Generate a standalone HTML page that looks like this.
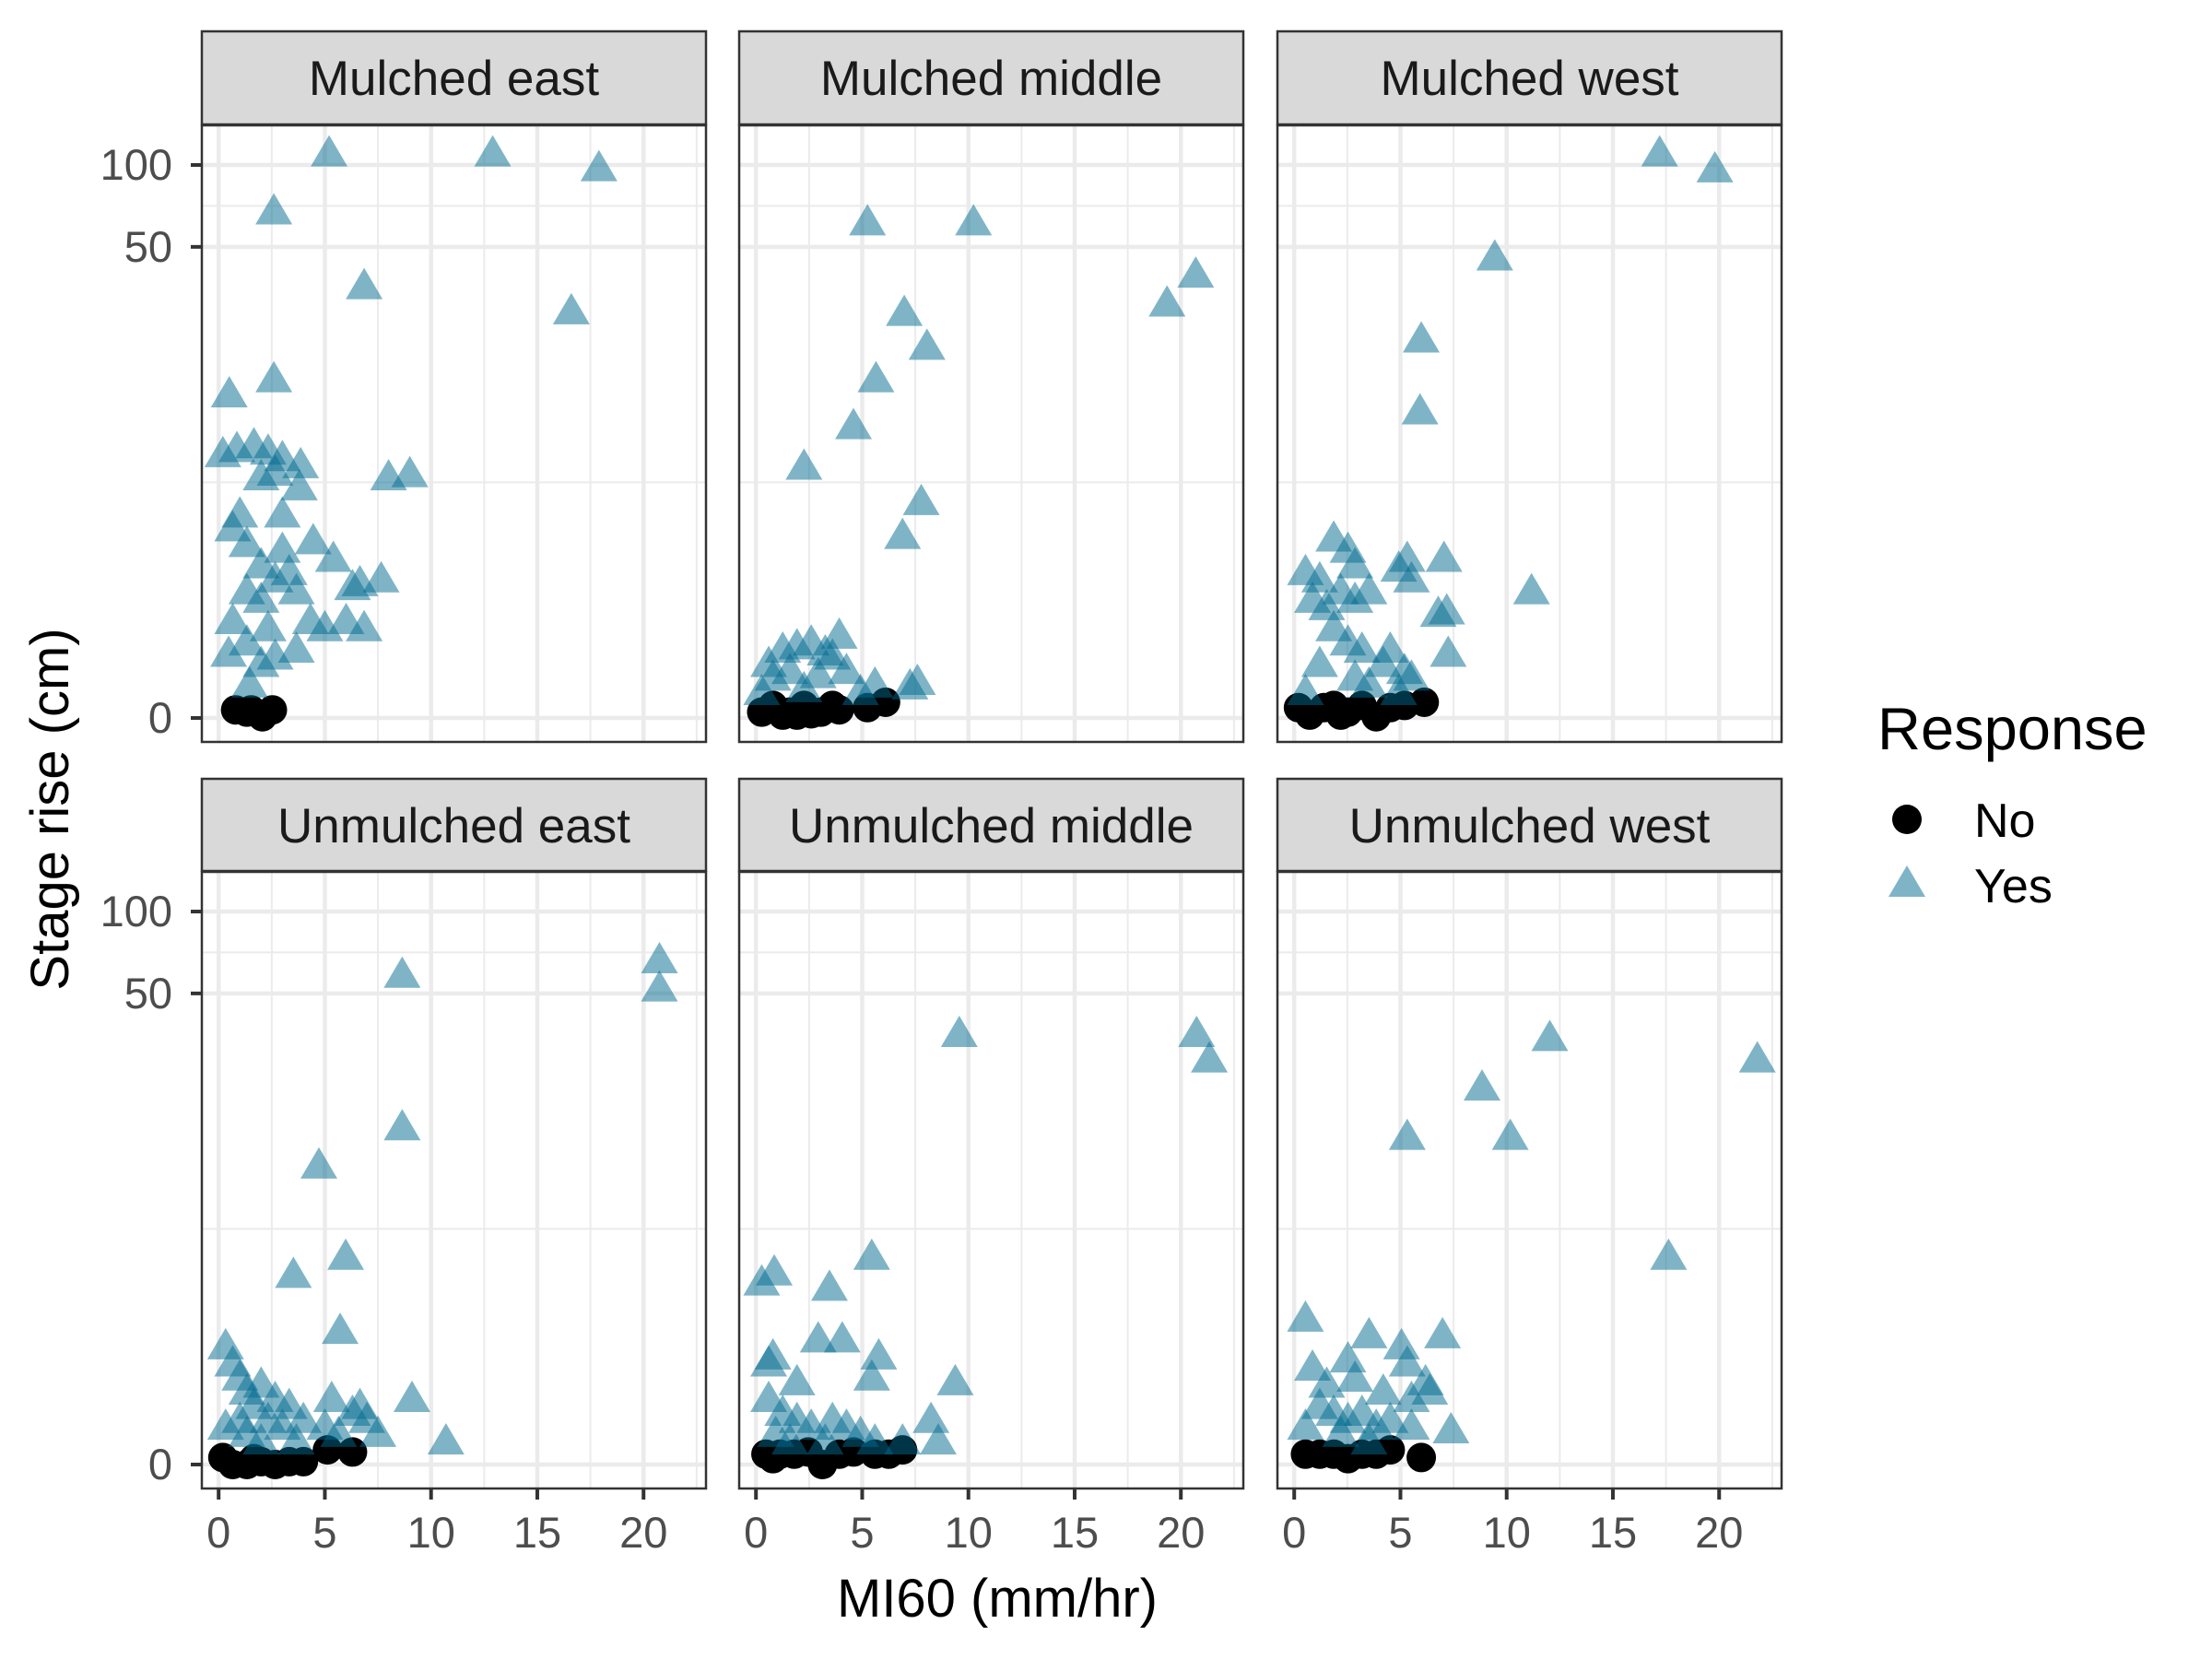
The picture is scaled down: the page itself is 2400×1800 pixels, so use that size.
<!DOCTYPE html>
<html><head><meta charset="utf-8">
<style>
html,body{margin:0;padding:0;background:#fff;}
svg{display:block;font-family:"Liberation Sans",sans-serif;}
</style></head>
<body>
<svg id="chart" width="2400" height="1800" viewBox="0 0 2400 1800" xmlns="http://www.w3.org/2000/svg">
<rect width="2400" height="1800" fill="#fff"/>
<text x="74" y="878" transform="rotate(-90 74 878)" text-anchor="middle" font-size="58" fill="#000">Stage rise (cm)</text>
<text x="1082" y="1754" text-anchor="middle" font-size="58" fill="#000">MI60 (mm/hr)</text>
<g>
<text x="2037" y="813" font-size="65" fill="#000">Response</text>
<circle cx="2069" cy="889" r="16" fill="#000"/>
<text x="2142" y="908" font-size="52" fill="#000">No</text>
<polygon points="2049,973 2089,973 2069,939" fill="#006A90" fill-opacity="0.5"/>
<text x="2142" y="979" font-size="52" fill="#000">Yes</text>
</g>
<g id="panels"></g>
</svg>
<script>
const panelTitles=["Mulched east","Mulched middle","Mulched west","Unmulched east","Unmulched middle","Unmulched west"];
const xTicks=[0,5,10,15,20];
const xTickLabels=["0","5","10","15","20"];
const yTicks=[0,50,100];
const yTickLabels=["0","50","100"];

const meYesX=[5.2,12.9,17.9,2.6,6.85,16.6,2.6,0.5,0.2,0.86,1.66,2.33,3.0,3.86,2.0,2.66,8.0,9.0,3.8,1.0,0.66,1.33,3.0,4.45,5.4,3.0,2.0,2.66,3.32,1.33,0.66,2.0,2.33,3.66,6.65,7.65,6.3,4.32,5.0,6.0,6.85,0.47,1.33,2.66,2.0,3.66,1.46];
const meYesY=[111,111,98,68,36,29,16,14,8.1,8.5,8.8,8.3,7.8,7.3,6.5,6.8,6.5,6.7,5.9,4.5,3.9,3.3,4.5,3.4,2.8,3.1,2.6,2.2,2.4,1.9,1.26,1.7,1.13,1.9,2.1,2.2,2.0,1.26,1.13,1.26,1.13,0.72,0.89,0.68,0.58,0.78,0.33];
const meNoX=[0.8,1.53,2.06,2.53,1.33];
const meNoY=[0.07,0.07,0.01,0.07,0.05];

const mmYesX=[5.25,10.24,20.7,19.35,6.98,8.05,5.65,4.59,2.26,7.78,6.9,0.6,1.26,1.93,2.6,3.26,3.92,3.6,1.6,0.8,2.93,5.6,7.25,7.6,4.26,0.27,2.26,4.92];
const mmYesY=[62,62,39.7,31,28.6,21.3,16,10.5,7.2,5.1,3.6,0.58,0.78,0.83,0.89,0.74,1.0,0.68,0.49,0.41,0.44,0.33,0.31,0.36,0.49,0.25,0.28,0.25];
const mmNoX=[0.27,0.8,1.6,2.26,2.6,3.06,3.6,3.92,5.25,6.1,1.26,1.93];
const mmNoY=[0.05,0.11,0.05,0.11,0.035,0.05,0.11,0.07,0.09,0.14,0.024,0.024];

const mwYesX=[17.2,19.8,9.44,5.98,5.92,11.17,7.05,7.18,6.78,4.92,5.32,5.52,1.86,2.53,0.53,1.2,2.86,0.86,1.53,2.19,2.86,3.52,1.86,2.53,3.19,4.52,4.19,7.25,5.19,5.52,1.2,2.86,3.52,0.53,4.92];
const mwYesY=[111,97,46,22.7,12,1.9,2.8,1.45,1.4,2.5,2.8,2.2,3.5,3.1,2.4,2.2,2.6,1.7,1.54,1.9,1.7,1.9,1.13,0.89,0.78,0.78,0.58,0.72,0.49,0.41,0.58,0.41,0.33,0.25,0.25];
const mwNoX=[0.2,0.73,1.4,1.86,2.53,3.19,3.86,4.52,5.19,6.12,2.19];
const mwNoY=[0.09,0.024,0.09,0.11,0.05,0.11,0.01,0.09,0.11,0.14,0.024];

const ueYesX=[20.75,20.75,8.64,8.64,4.72,5.98,3.52,5.72,9.1,10.7,0.33,0.66,1.0,1.33,2.0,2.66,3.32,1.66,1.0,0.33,2.33,3.0,3.99,5.32,6.3,6.98,6.65,5.0,5.65,7.5,1.33,3.66,2.0];
const ueYesY=[66.7,52.5,59,15.8,11.2,4.7,3.9,2.07,0.74,0.22,1.7,1.34,1.08,0.85,0.96,0.74,0.64,0.64,0.46,0.38,0.46,0.38,0.46,0.74,0.55,0.46,0.64,0.38,0.30,0.30,0.30,0.22,0.22];
const ueNoX=[0.2,0.66,1.33,2.0,2.66,3.32,3.99,5.12,6.3,1.66];
const ueNoY=[0.06,0,0,0.024,0,0.024,0.024,0.13,0.11,0.05];

const umYesX=[9.57,20.74,21.34,5.45,0.27,0.86,3.46,2.93,4.06,0.8,0.6,5.78,1.93,5.45,9.38,8.24,8.58,0.6,1.26,1.93,2.6,3.6,4.26,4.92,3.26,5.6,6.9,0.93,1.6];
const umYesY=[35.6,35.6,28.6,4.7,3.6,4.0,3.4,1.86,1.86,1.48,1.34,1.48,1.0,1.08,1.0,0.46,0.22,0.74,0.55,0.46,0.38,0.46,0.38,0.30,0.22,0.22,0.22,0.30,0.22];
const umNoX=[0.47,1.13,1.8,2.46,3.13,3.92,4.59,5.6,6.25,6.9,0.8];
const umNoY=[0.09,0.09,0.09,0.11,0,0.09,0.11,0.09,0.09,0.13,0.05];

const uwYesX=[12.03,21.8,8.84,10.17,5.32,17.62,0.53,3.52,6.98,5.05,5.32,0.86,2.53,1.53,2.86,6.18,6.38,4.19,5.52,7.38,1.2,1.86,2.53,3.19,3.86,4.52,0.53,5.52,2.19,3.52];
const uwYesY=[34.4,28.6,22.4,14.5,14.5,4.7,2.4,1.96,1.96,1.7,1.34,1.26,1.42,0.96,1.06,1.0,0.85,0.85,0.74,0.34,0.64,0.55,0.46,0.55,0.38,0.46,0.38,0.38,0.30,0.22];
const uwNoX=[0.53,1.2,1.86,3.19,3.86,4.52,5.98,2.53];
const uwNoY=[0.09,0.09,0.09,0.09,0.09,0.13,0.06,0.05];

const yesXs=[meYesX,mmYesX,mwYesX,ueYesX,umYesX,uwYesX];
const yesYs=[meYesY,mmYesY,mwYesY,ueYesY,umYesY,uwYesY];
const noXs=[meNoX,mmNoX,mwNoX,ueNoX,umNoX,uwNoX];
const noYs=[meNoY,mmNoY,mwNoY,ueNoY,umNoY,uwNoY];

const NS="http://www.w3.org/2000/svg";
const root=document.getElementById('panels');
const PW=547, PH=669, PXL=[219,802,1386], STRIP_TOP=[34,845], PTOP=[136,946];
const XMIN=-0.79, XMAX=22.94;
const TMIN=-0.2, TMAX=4.946;
function mk(tag,attrs,parent){const e=document.createElementNS(NS,tag);for(const k in attrs)e.setAttribute(k,attrs[k]);parent.appendChild(e);return e;}
function trans(v){return Math.log1p(v);}

for(let p=0;p<6;p++){
  const col=p%3,row=Math.floor(p/3);
  const L=PXL[col],T=PTOP[row];
  const sx=v=>L+(v-XMIN)/(XMAX-XMIN)*PW;
  const sy=v=>T+PH-(trans(v)-TMIN)/(TMAX-TMIN)*PH;
  const syT=t=>T+PH-(t-TMIN)/(TMAX-TMIN)*PH;
  const g=mk('g',{},root);
  
  
  const st=mk('rect',{x:L,y:STRIP_TOP[row],width:PW,height:T-STRIP_TOP[row]-1,fill:'#D9D9D9',stroke:'#333333','stroke-width':2.5},g);
  
  
  const stt=mk('text',{x:L+PW/2,y:STRIP_TOP[row]+69,'text-anchor':'middle','font-size':53,fill:'#1A1A1A'},g);
  stt.textContent=panelTitles[p];
  
  
  const cid='clip'+p;
  const cp=mk('clipPath',{id:cid},g);
  mk('rect',{x:L,y:T,width:PW,height:PH},cp);
  const grid=mk('g',{'clip-path':'url(#'+cid+')'},g);
  
  
  [2.5,7.5,12.5,17.5,22.5].forEach(v=>{const l=mk('line',{x1:sx(v),x2:sx(v),y1:T,y2:T+PH,stroke:'#EBEBEB','stroke-width':2},grid);});
  const tt=yTicks.map(trans);
  [ (tt[0]+tt[1])/2, (tt[1]+tt[2])/2, tt[2]+(tt[2]-tt[1])/2 ].forEach(t=>{const l=mk('line',{x1:L,x2:L+PW,y1:syT(t),y2:syT(t),stroke:'#EBEBEB','stroke-width':2},grid);});
  xTicks.forEach(v=>{const l=mk('line',{x1:sx(v),x2:sx(v),y1:T,y2:T+PH,stroke:'#EBEBEB','stroke-width':4.5},grid);});
  yTicks.forEach(v=>{const l=mk('line',{x1:L,x2:L+PW,y1:sy(v),y2:sy(v),stroke:'#EBEBEB','stroke-width':4.5},grid);});
  const pts=mk('g',{'clip-path':'url(#'+cid+')'},g);
  
  
  const nx=noXs[p],ny=noYs[p];
  for(let i=0;i<nx.length;i++){
    const c=mk('circle',{cx:sx(nx[i]),cy:sy(ny[i]),r:16,fill:'#000'},pts);
    
    
  }
  const yx=yesXs[p],yy=yesYs[p];
  for(let i=0;i<yx.length;i++){
    const cx=sx(yx[i]),cy=sy(yy[i]);
    const t=mk('polygon',{points:(cx-20)+','+(cy+15)+' '+(cx+20)+','+(cy+15)+' '+cx+','+(cy-19),fill:'#006A90','fill-opacity':0.5},pts);
    
    
  }
  const bd=mk('rect',{x:L,y:T,width:PW,height:PH,fill:'none',stroke:'#333333','stroke-width':2.5},g);
  
  
  if(col===0){
    yTicks.forEach((v,i)=>{
      const tk=mk('line',{x1:L-12,x2:L,y1:sy(v),y2:sy(v),stroke:'#333333','stroke-width':4},g);
      
      
      const lb=mk('text',{x:L-32,y:sy(v)+16,'text-anchor':'end','font-size':47,fill:'#4D4D4D'},g);
      lb.textContent=yTickLabels[i];
      
      
    });
  }
  if(row===1){
    xTicks.forEach((v,i)=>{
      const tk=mk('line',{x1:sx(v),x2:sx(v),y1:T+PH,y2:T+PH+12,stroke:'#333333','stroke-width':4},g);
      
      
      const lb=mk('text',{x:sx(v),y:T+PH+64,'text-anchor':'middle','font-size':47,fill:'#4D4D4D'},g);
      lb.textContent=xTickLabels[i];
      
      
    });
  }
}
</script>
</body></html>
